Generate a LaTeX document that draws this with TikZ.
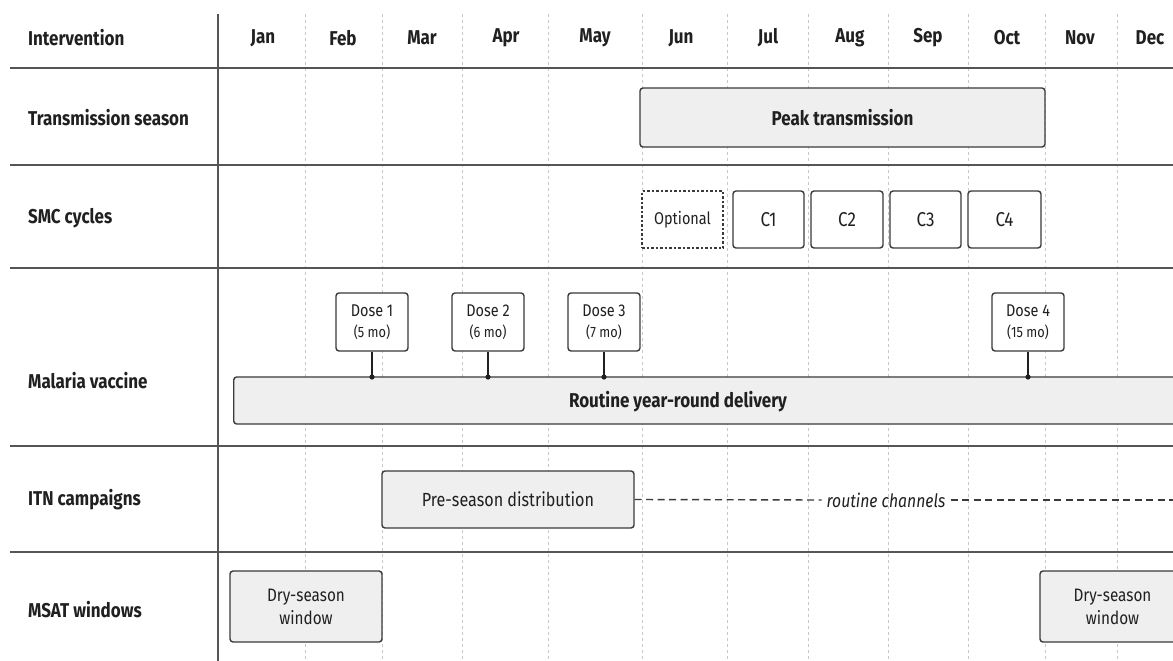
\documentclass[tikz,border=0pt]{standalone}
\usepackage{fontspec}
\setmainfont{Fira Sans}[FakeStretch=0.85]
\definecolor{ink}{HTML}{202020}
\definecolor{edge}{HTML}{3A3A3A}
\definecolor{boxfill}{HTML}{EFEFEF}
\definecolor{gridc}{HTML}{C8C8C8}
\definecolor{sepc}{HTML}{555555}
\tikzset{
  sepline/.style={draw=sepc, line width=2.2pt},
  gridline/.style={draw=gridc, line width=0.7pt, dash pattern=on 3pt off 3pt},
  axisline/.style={draw=sepc, line width=1.5pt},
  bar/.style={draw=edge, line width=1.4pt, rounded corners=3pt, fill=boxfill, inner sep=0pt, text=ink},
  cyc/.style={bar, fill=white},
  optbox/.style={draw=edge, line width=1.2pt, dash pattern=on 2.5pt off 2pt, fill=white, inner sep=0pt, text=ink},
  dosebox/.style={bar, fill=white, minimum width=72pt, minimum height=58pt, align=center, font=\fontsize{17}{21}\selectfont},
  rowlab/.style={anchor=west, inner sep=0pt, text=ink, font=\bfseries\fontsize{20}{24}\selectfont},
  monlab/.style={text=ink, font=\bfseries\fontsize{20}{24}\selectfont},
  stem/.style={draw=ink, line width=1.3pt},
  dashconn/.style={draw=edge, line width=1.4pt, dash pattern=on 7pt off 4.5pt},
}
\begin{document}
\begin{tikzpicture}[x=1pt,y=-1pt]
\useasboundingbox (0,0) rectangle (1173,661);
\clip (0,0) rectangle (1173,661);
\fill[white] (0,0) rectangle (1173,661);
% grid
\foreach \gx in {305,382,462,548,642,727,808,888,968,1045,1117}
  \draw[gridline] (\gx,14) -- (\gx,661);
\draw[axisline] (218,14) -- (218,661);
\foreach \gy in {68,165,268,446,552}
  \draw[sepline] (10,\gy) -- (1173,\gy);
% header
\node[rowlab] (hInt) at (28,38) {Intervention};
\foreach \m/\mx in {Jan/263,Feb/343,Mar/422,Apr/506,May/595,Jun/681,Jul/768,Aug/850,Sep/928,Oct/1007,Nov/1080,Dec/1150}
  \node[monlab] (m\m) at (\mx,38) {\m};
% row labels
\node[rowlab] (rTrans) at (28,118) {Transmission season};
\node[rowlab] (rSMC) at (28,218) {SMC cycles};
\node[rowlab] (rVac) at (28,381) {Malaria vaccine};
\node[rowlab] (rITN) at (28,500) {ITN campaigns};
\node[rowlab] (rMSAT) at (28,610) {MSAT windows};
% transmission
\node[bar, minimum width=405pt, minimum height=59pt, font=\bfseries\fontsize{20}{24}\selectfont] (peak) at (842.5,117.5) {Peak transmission};
% SMC
\node[optbox, minimum width=81pt, minimum height=57pt, font=\fontsize{17}{20}\selectfont] (opt) at (682.5,219.5) {Optional};
\node[cyc, minimum width=71pt, minimum height=57pt, font=\fontsize{20}{24}\selectfont] (c1) at (768.5,219.5) {C1};
\node[cyc, minimum width=72pt, minimum height=57pt, font=\fontsize{20}{24}\selectfont] (c2) at (847,219.5) {C2};
\node[cyc, minimum width=71pt, minimum height=57pt, font=\fontsize{20}{24}\selectfont] (c3) at (925.5,219.5) {C3};
\node[cyc, minimum width=73pt, minimum height=57pt, font=\fontsize{20}{24}\selectfont] (c4) at (1004.5,219.5) {C4};
% vaccine
\node[bar, minimum width=960pt, minimum height=47pt, anchor=west] (routine) at (233,400.5) {};
\node[text=ink, font=\bfseries\fontsize{20}{24}\selectfont] (routinelab) at (678,402) {Routine year-round delivery};
\foreach \d/\dx/\dm in {1/372/5,2/488/6,3/604/7,4/1028/15}{
  \node[dosebox] (dose\d) at (\dx,322) {Dose \d\\{\fontsize{15}{21}\selectfont (\dm\ mo)}};
  \coordinate (tick\d) at (\dx,377);
  \draw[stem] (dose\d.south) -- (tick\d);
  \fill[ink] (tick\d) circle (2.6pt);
}
% ITN
\node[bar, minimum width=252pt, minimum height=57pt, font=\fontsize{19}{23}\selectfont] (pre) at (508,499.5) {Pre-season distribution};
\node[text=ink, font=\itshape\fontsize{18.5}{22}\selectfont, inner sep=5pt] (rout) at (886,500) {routine channels};
\coordinate (itnend) at (1173,500);
\draw[dashconn] (pre.east) -- (rout.west);
\draw[dashconn] (rout.east) -- (itnend);
% MSAT
\node[bar, minimum width=152pt, minimum height=71pt, align=center, font=\fontsize{18}{23}\selectfont] (dry1) at (306,606.5) {Dry-season\\window};
\node[bar, minimum width=145pt, minimum height=71pt, align=center, font=\fontsize{18}{23}\selectfont] (dry2) at (1112.5,606.5) {Dry-season\\window};
\end{tikzpicture}
\end{document}
